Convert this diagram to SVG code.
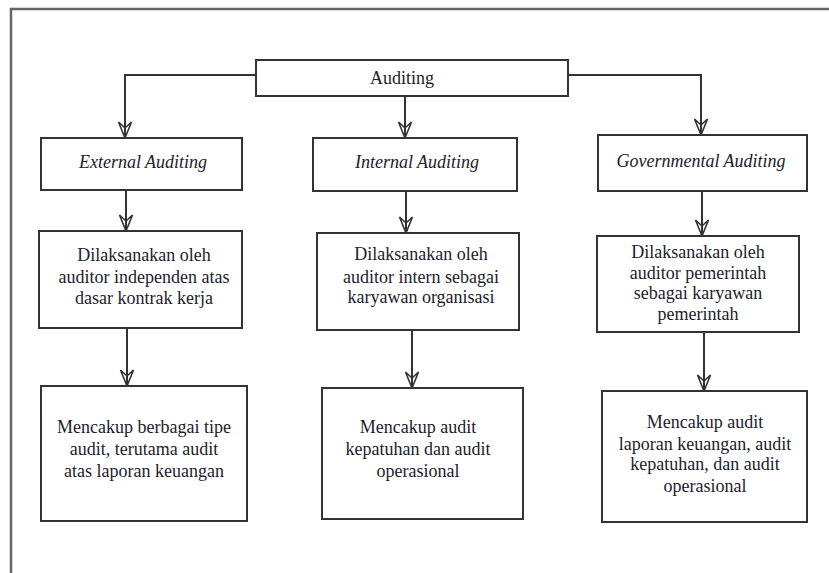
<svg xmlns="http://www.w3.org/2000/svg" width="829" height="573" viewBox="0 0 829 573">
<defs>
<style>
.frame{fill:none;stroke:#666;stroke-width:2.5}
.box{fill:#fff;stroke:#333;stroke-width:2}
.conn{fill:none;stroke:#333;stroke-width:2}
text{font-family:'Liberation Serif','Times New Roman','DejaVu Serif',serif;font-size:18px;fill:#1c1c2c;text-anchor:middle}
.i{font-style:italic}
</style>
<marker id="arr" markerUnits="userSpaceOnUse" markerWidth="18" markerHeight="16" viewBox="0 0 18 16" refX="17" refY="8" orient="auto">
<path d="M17,8 L1,1.5 L7,8 L1,14.5 Z" fill="none" stroke="#333" stroke-width="1.6" stroke-linejoin="miter"/>
</marker>
</defs>
<rect width="829" height="573" fill="#fff"/>
<path class="frame" d="M11,573 L11,9 L829,9"/>
<g id="connectors">
<path class="conn" d="M256,75 L125,75 L125,138" marker-end="url(#arr)"/>
<path class="conn" d="M405,96 L405,138" marker-end="url(#arr)"/>
<path class="conn" d="M568,75 L701,75 L701,135" marker-end="url(#arr)"/>
<path class="conn" d="M126,190 L126,231" marker-end="url(#arr)"/>
<path class="conn" d="M406,191 L406,233" marker-end="url(#arr)"/>
<path class="conn" d="M702,191 L702,236" marker-end="url(#arr)"/>
<path class="conn" d="M127,328 L127,386" marker-end="url(#arr)"/>
<path class="conn" d="M412,330 L412,388" marker-end="url(#arr)"/>
<path class="conn" d="M704,332 L704,391" marker-end="url(#arr)"/>
</g>
<g font-family="Liberation Serif, serif">
<g id="auditing">
<rect class="box" x="256" y="60" width="312" height="36"/>
<text x="402" y="84">Auditing</text>
</g>
<g id="external">
<rect class="box" x="41" y="138" width="201" height="52"/>
<text class="i" x="143" y="168">External Auditing</text>
</g>
<g id="internal">
<rect class="box" x="313" y="138" width="204" height="53"/>
<text class="i" x="417" y="168">Internal Auditing</text>
</g>
<g id="governmental">
<rect class="box" x="598" y="135" width="209" height="56"/>
<text class="i" x="701" y="167">Governmental Auditing</text>
</g>
<g id="external-desc">
<rect class="box" x="39" y="231" width="203" height="97"/>
<text x="144" y="261">Dilaksanakan oleh</text>
<text x="144" y="283">auditor independen atas</text>
<text x="144" y="304">dasar kontrak kerja</text>
</g>
<g id="internal-desc">
<rect class="box" x="317" y="233" width="202" height="97"/>
<text x="421" y="260">Dilaksanakan oleh</text>
<text x="421" y="283">auditor intern sebagai</text>
<text x="421" y="303">karyawan organisasi</text>
</g>
<g id="governmental-desc">
<rect class="box" x="597" y="236" width="202" height="96"/>
<text x="698" y="258">Dilaksanakan oleh</text>
<text x="698" y="279">auditor pemerintah</text>
<text x="698" y="299">sebagai karyawan</text>
<text x="698" y="320">pemerintah</text>
</g>
<g id="external-scope">
<rect class="box" x="41" y="386" width="206" height="135"/>
<text x="144" y="433">Mencakup berbagai tipe</text>
<text x="144" y="455">audit, terutama audit</text>
<text x="144" y="477">atas laporan keuangan</text>
</g>
<g id="internal-scope">
<rect class="box" x="322" y="388" width="201" height="131"/>
<text x="418" y="433">Mencakup audit</text>
<text x="418" y="455">kepatuhan dan audit</text>
<text x="418" y="477">operasional</text>
</g>
<g id="governmental-scope">
<rect class="box" x="602" y="391" width="205" height="131"/>
<text x="705" y="428">Mencakup audit</text>
<text x="705" y="450">laporan keuangan, audit</text>
<text x="705" y="470">kepatuhan, dan audit</text>
<text x="705" y="492">operasional</text>
</g>
</g>
</svg>
